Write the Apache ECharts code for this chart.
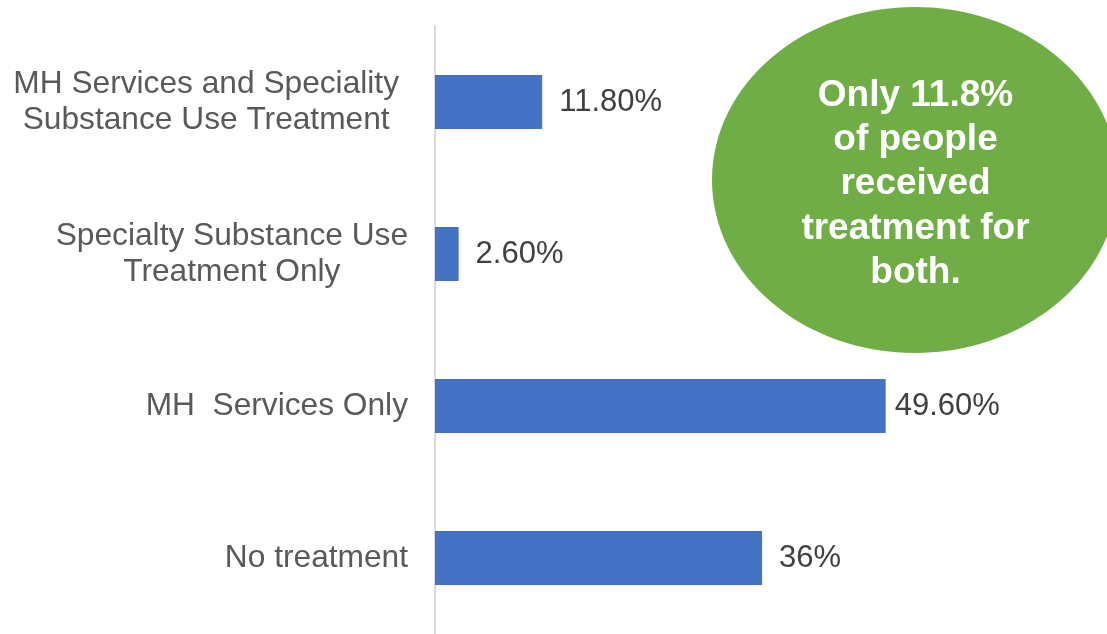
<!DOCTYPE html>
<html>
<head>
<meta charset="utf-8">
<script src="https://cdn.jsdelivr.net/npm/echarts@6/dist/echarts.min.js"></script>
<style>
  html, body { margin: 0; padding: 0; background: #ffffff; }
  #chart { width: 1107px; height: 634px; }
</style>
</head>
<body>
<div id="chart"></div>
<script>
// Treatment received, share of people (%)
const categories = [
  'MH Services and Speciality\nSubstance Use Treatment',
  'Specialty Substance Use\nTreatment Only',
  'MH  Services Only',
  'No treatment'
];
const shares = [11.8, 2.6, 49.6, 36];
const shareLabels = ['11.80%', '2.60%', '49.60%', '36%'];
const calloutText = 'Only 11.8%\nof people\nreceived\ntreatment for\nboth.';

const FONT = '"Liberation Sans", Arial, Helvetica, sans-serif';

// the first wrapped label sits a little further from the axis,
// and the widest value label is tucked closer to its bar
const categoryData = categories.map(function (c, i) {
  return i === 0 ? { value: c, textStyle: { padding: [0, 9, 0, 0] } } : { value: c };
});
const barData = shares.map(function (v, i) {
  return i === 2 ? { value: v, label: { distance: 9 } } : { value: v };
});

const chart = echarts.init(document.getElementById('chart'), null, { renderer: 'canvas' });

chart.setOption({
  animation: false,
  backgroundColor: '#ffffff',
  grid: { left: 435, right: 36, top: 26, height: 611, containLabel: false },
  xAxis: {
    type: 'value',
    min: 0,
    max: 70,
    show: false
  },
  yAxis: {
    type: 'category',
    data: categoryData,
    inverse: true,
    axisTick: { show: false },
    axisLine: { show: true, lineStyle: { color: '#d9d9d9', width: 2 } },
    splitLine: { show: false },
    axisLabel: {
      margin: 27,
      fontFamily: FONT,
      fontSize: 31.7,
      lineHeight: 36,
      color: '#595959',
      // each line centred within its label block
      formatter: function (v) {
        return v.split('\n').map(function (l) { return '{c|' + l + '}'; }).join('\n');
      },
      rich: {
        c: { align: 'center', fontFamily: FONT, fontSize: 31.7, lineHeight: 36, color: '#595959' }
      }
    }
  },
  series: [{
    type: 'bar',
    data: barData,
    barWidth: 54,
    itemStyle: { color: '#4472C4' },
    label: {
      show: true,
      position: 'right',
      distance: 17,
      fontFamily: FONT,
      fontSize: 31,
      color: '#404040',
      formatter: function (p) { return shareLabels[p.dataIndex]; }
    }
  }],
  graphic: [
    {
      type: 'ellipse',
      shape: { cx: 915, cy: 180, rx: 203, ry: 173 },
      style: { fill: '#70AD47' },
      z: 10
    },
    {
      type: 'text',
      x: 915.5,
      y: 184,
      z: 11,
      style: {
        text: calloutText,
        fill: '#ffffff',
        font: 'bold 37px ' + FONT,
        lineHeight: 44.3,
        align: 'center',
        verticalAlign: 'middle'
      }
    }
  ]
});
</script>
</body>
</html>
